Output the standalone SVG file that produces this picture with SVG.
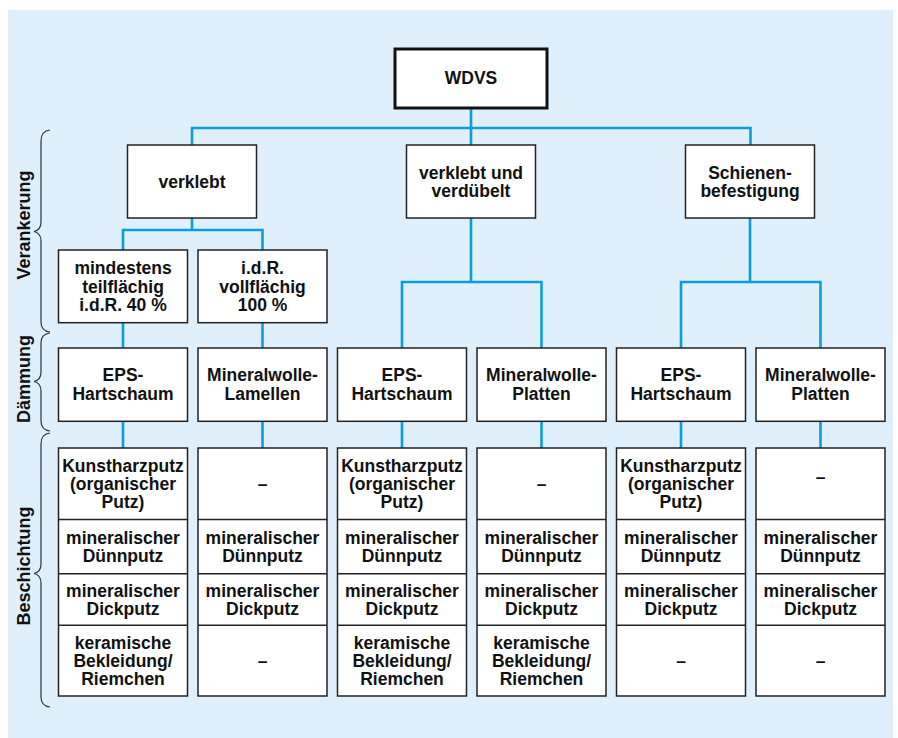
<svg xmlns="http://www.w3.org/2000/svg" width="898" height="738" viewBox="0 0 898 738">
<style>
.bg{fill:#dff0fc}
.box{fill:#fff;stroke:#222;stroke-width:1.5}
.top{fill:#fff;stroke:#111;stroke-width:3}
.div{stroke:#222;stroke-width:1.5;fill:none}
.con{stroke:#0a9ee0;stroke-width:2.6;fill:none}
.brace{stroke:#333;stroke-width:1.2;fill:none}
text{font-family:"Liberation Sans",Arial,sans-serif;font-weight:bold;font-size:17.5px;fill:#111;text-anchor:middle}
.side{font-size:18px}
</style>
<rect class="bg" x="8" y="10" width="885" height="728"/>

<g id="connectors">
<path class="con" d="M471 108V128M192 145V128H750.5V145M471 128V145"/>
<path class="con" d="M192 218V230M123 250V230H262.5V250"/>
<path class="con" d="M471 218V282M402 348V282H541.5V348"/>
<path class="con" d="M750 218V282M681 348V282H820.5V348"/>
<path class="con" d="M123 322.7V348M262.5 322.7V348"/>
<path class="con" d="M123 421.3V448M262.5 421.3V448M402 421.3V448M541.5 421.3V448M681 421.3V448M820.5 421.3V448"/>
</g>

<g id="braces">
<path class="brace" d="M50 130Q41 131 41 141V222Q41 230 34 231.5Q41 233 41 241V322Q41 331 50 332"/>
<path class="brace" d="M50 333Q41 334 41 343V372Q41 380 34 381.5Q41 383 41 391V421Q41 430 50 431"/>
<path class="brace" d="M50 433Q41 434 41 444V564Q41 572 34 573.5Q41 575 41 583V697Q41 706 50 707"/>
<text class="side" transform="translate(30,225) rotate(-90)">Verankerung</text>
<text class="side" transform="translate(30,379) rotate(-90)">Dämmung</text>
<text class="side" transform="translate(30,566) rotate(-90)">Beschichtung</text>
</g>

<g id="wdvs"><rect class="top" x="395" y="49" width="152" height="59"/><text x="471" y="84">WDVS</text></g>

<g id="verklebt"><rect class="box" x="127.5" y="145" width="129" height="73"/><text x="192" y="188">verklebt</text></g>
<g id="verklebt-verduebelt"><rect class="box" x="406.5" y="145" width="129" height="73"/><text x="471" y="178.7">verklebt und</text><text x="471" y="197">verdübelt</text></g>
<g id="schienen"><rect class="box" x="685.5" y="145" width="129" height="73"/><text x="750" y="178.7">Schienen-</text><text x="750" y="197">befestigung</text></g>

<g id="teilflaechig"><rect class="box" x="58.5" y="250" width="129" height="72.7"/><text x="123" y="274.3">mindestens</text><text x="123" y="292.6">teilflächig</text><text x="123" y="310.9">i.d.R. 40 %</text></g>
<g id="vollflaechig"><rect class="box" x="198" y="250" width="129" height="72.7"/><text x="262.5" y="274.3">i.d.R.</text><text x="262.5" y="292.6">vollflächig</text><text x="262.5" y="310.9">100 %</text></g>

<g id="daemm1"><rect class="box" x="58.5" y="348" width="129" height="73.3"/><text x="123" y="381.3">EPS-</text><text x="123" y="399.6">Hartschaum</text></g>
<g id="daemm2"><rect class="box" x="198" y="348" width="129" height="73.3"/><text x="262.5" y="381.3">Mineralwolle-</text><text x="262.5" y="399.6">Lamellen</text></g>
<g id="daemm3"><rect class="box" x="337.5" y="348" width="129" height="73.3"/><text x="402" y="381.3">EPS-</text><text x="402" y="399.6">Hartschaum</text></g>
<g id="daemm4"><rect class="box" x="477" y="348" width="129" height="73.3"/><text x="541.5" y="381.3">Mineralwolle-</text><text x="541.5" y="399.6">Platten</text></g>
<g id="daemm5"><rect class="box" x="616.5" y="348" width="129" height="73.3"/><text x="681" y="381.3">EPS-</text><text x="681" y="399.6">Hartschaum</text></g>
<g id="daemm6"><rect class="box" x="756" y="348" width="129" height="73.3"/><text x="820.5" y="381.3">Mineralwolle-</text><text x="820.5" y="399.6">Platten</text></g>

<g id="besch1"><rect class="box" x="58.5" y="448" width="129" height="248"/><path class="div" d="M58.5 519.5H187.5M58.5 573.7H187.5M58.5 625.3H187.5"/>
<text x="123" y="471.8">Kunstharzputz</text><text x="123" y="490.1">(organischer</text><text x="123" y="508.4">Putz)</text>
<text x="123" y="543.8">mineralischer</text><text x="123" y="562.1">Dünnputz</text>
<text x="123" y="596.6">mineralischer</text><text x="123" y="614.9">Dickputz</text>
<text x="123" y="648.6">keramische</text><text x="123" y="666.9">Bekleidung/</text><text x="123" y="685.2">Riemchen</text></g>
<g id="besch2"><rect class="box" x="198" y="448" width="129" height="248"/><path class="div" d="M198 519.5H327M198 573.7H327M198 625.3H327"/>
<text x="262.5" y="490.1">–</text>
<text x="262.5" y="543.8">mineralischer</text><text x="262.5" y="562.1">Dünnputz</text>
<text x="262.5" y="596.6">mineralischer</text><text x="262.5" y="614.9">Dickputz</text>
<text x="262.5" y="666.9">–</text></g>
<g id="besch3"><rect class="box" x="337.5" y="448" width="129" height="248"/><path class="div" d="M337.5 519.5H466.5M337.5 573.7H466.5M337.5 625.3H466.5"/>
<text x="402" y="471.8">Kunstharzputz</text><text x="402" y="490.1">(organischer</text><text x="402" y="508.4">Putz)</text>
<text x="402" y="543.8">mineralischer</text><text x="402" y="562.1">Dünnputz</text>
<text x="402" y="596.6">mineralischer</text><text x="402" y="614.9">Dickputz</text>
<text x="402" y="648.6">keramische</text><text x="402" y="666.9">Bekleidung/</text><text x="402" y="685.2">Riemchen</text></g>
<g id="besch4"><rect class="box" x="477" y="448" width="129" height="248"/><path class="div" d="M477 519.5H606M477 573.7H606M477 625.3H606"/>
<text x="541.5" y="490.1">–</text>
<text x="541.5" y="543.8">mineralischer</text><text x="541.5" y="562.1">Dünnputz</text>
<text x="541.5" y="596.6">mineralischer</text><text x="541.5" y="614.9">Dickputz</text>
<text x="541.5" y="648.6">keramische</text><text x="541.5" y="666.9">Bekleidung/</text><text x="541.5" y="685.2">Riemchen</text></g>
<g id="besch5"><rect class="box" x="616.5" y="448" width="129" height="248"/><path class="div" d="M616.5 519.5H745.5M616.5 573.7H745.5M616.5 625.3H745.5"/>
<text x="681" y="471.8">Kunstharzputz</text><text x="681" y="490.1">(organischer</text><text x="681" y="508.4">Putz)</text>
<text x="681" y="543.8">mineralischer</text><text x="681" y="562.1">Dünnputz</text>
<text x="681" y="596.6">mineralischer</text><text x="681" y="614.9">Dickputz</text>
<text x="681" y="666.9">–</text></g>
<g id="besch6"><rect class="box" x="756" y="448" width="129" height="248"/><path class="div" d="M756 519.5H885M756 573.7H885M756 625.3H885"/>
<text x="820.5" y="483">–</text>
<text x="820.5" y="543.8">mineralischer</text><text x="820.5" y="562.1">Dünnputz</text>
<text x="820.5" y="596.6">mineralischer</text><text x="820.5" y="614.9">Dickputz</text>
<text x="820.5" y="666.9">–</text></g>
</svg>
